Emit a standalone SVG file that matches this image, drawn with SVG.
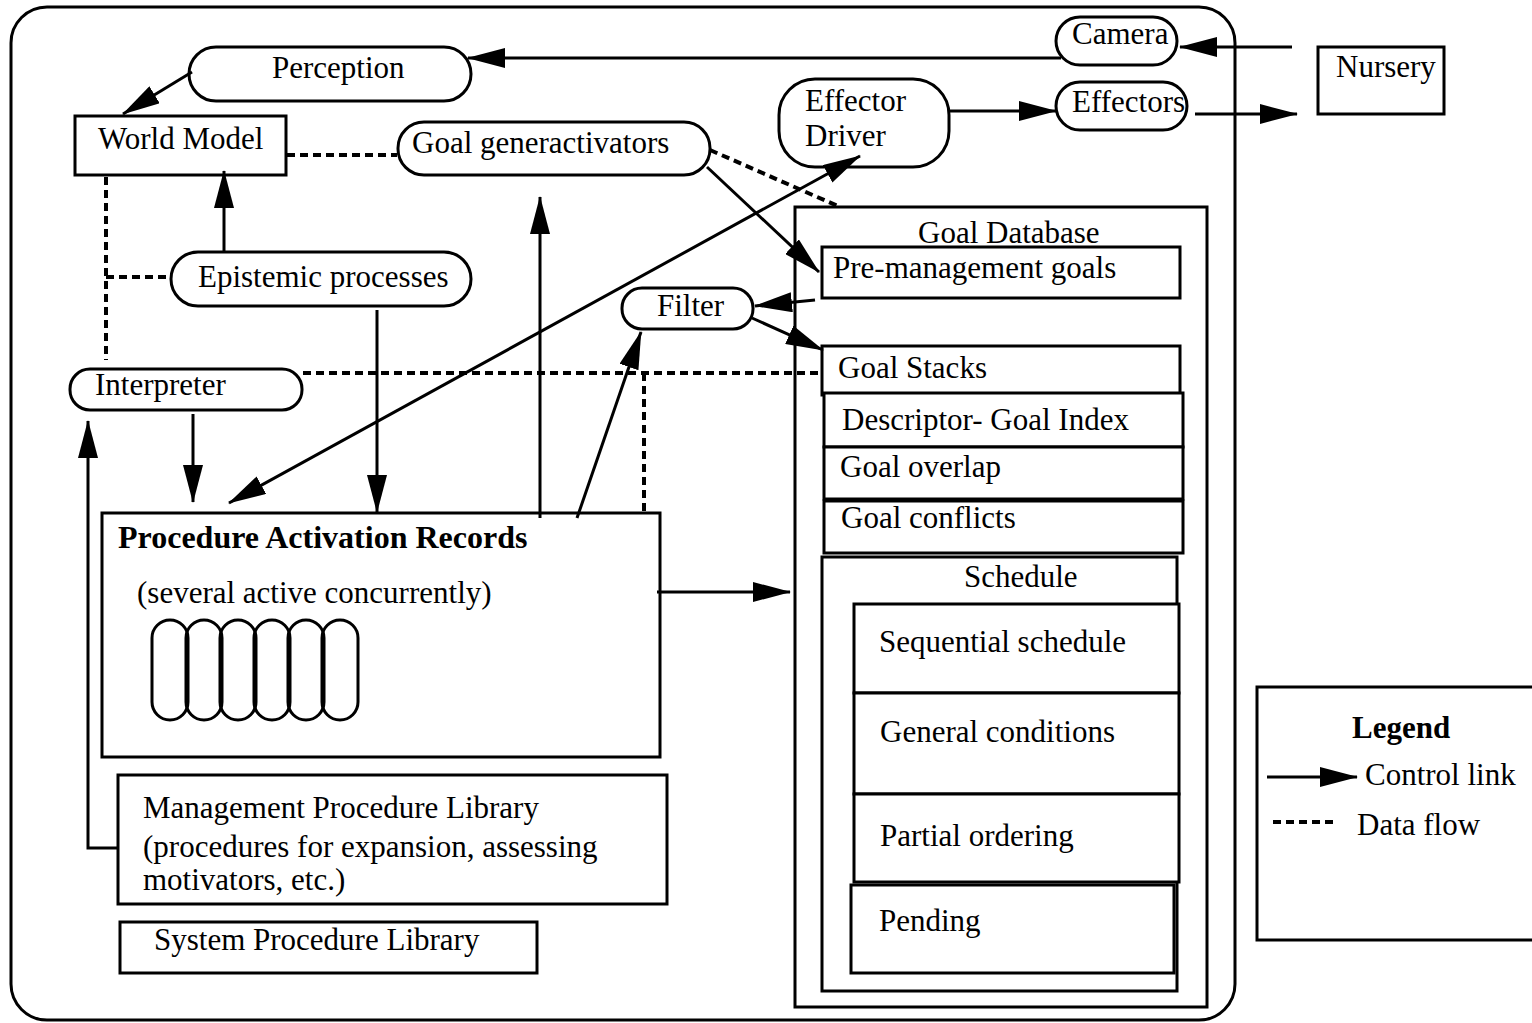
<svg xmlns="http://www.w3.org/2000/svg" width="1532" height="1023" viewBox="0 0 1532 1023">
  <style>
    text { font-family: "Liberation Serif", "Times New Roman", serif; font-size: 31px; fill: #000; }
    .b { font-weight: bold; }
    .title { font-size: 32px; }
    .box { fill: #fff; stroke: #000; stroke-width: 3; }
    .frame { fill: none; stroke: #000; stroke-width: 3; }
    .ctl { fill: none; stroke: #000; stroke-width: 3; marker-end: url(#ah); }
    .data { fill: none; stroke: #000; stroke-width: 4; stroke-dasharray: 8 5; }
  </style>
  <defs>
    <marker id="ah" markerUnits="userSpaceOnUse" markerWidth="38" markerHeight="20" viewBox="0 0 38 20" refX="37" refY="10" orient="auto-start-reverse">
      <path d="M0,0 L38,10 L0,20 z" fill="#000"/>
    </marker>
  </defs>

  <rect width="1532" height="1023" fill="#fff"/>

  <!-- agent boundary -->
  <rect id="agent" class="frame" x="11" y="7" width="1224" height="1013" rx="36"/>

  <g id="camera">
    <rect class="box" x="1056" y="17" width="121" height="48" rx="24"/>
    <text x="1072" y="44">Camera</text>
  </g>
  <g id="nursery">
    <rect class="box" x="1318" y="47" width="126" height="67"/>
    <text x="1336" y="77">Nursery</text>
  </g>
  <g id="effectors">
    <rect class="box" x="1056" y="82" width="131" height="48" rx="24"/>
    <text x="1072" y="112">Effectors</text>
  </g>
  <g id="effector-driver">
    <rect class="box" x="779" y="79" width="170" height="88" rx="36"/>
    <text x="805" y="111">Effector</text>
    <text x="805" y="146">Driver</text>
  </g>
  <g id="perception">
    <rect class="box" x="189" y="47" width="282" height="54" rx="27"/>
    <text x="272" y="78">Perception</text>
  </g>
  <g id="world-model">
    <rect class="box" x="75" y="116" width="211" height="59"/>
    <text x="98" y="149">World Model</text>
  </g>
  <g id="goal-generactivators">
    <rect class="box" x="398" y="122" width="312" height="53" rx="26"/>
    <text x="412" y="153">Goal generactivators</text>
  </g>
  <g id="epistemic-processes">
    <rect class="box" x="171" y="252" width="300" height="54" rx="27"/>
    <text x="198" y="287">Epistemic processes</text>
  </g>
  <g id="interpreter">
    <rect class="box" x="70" y="369" width="232" height="41" rx="20"/>
    <text x="95" y="395">Interpreter</text>
  </g>
  <g id="filter">
    <rect class="box" x="622" y="288" width="131" height="41" rx="20"/>
    <text x="657" y="316">Filter</text>
  </g>

  <g id="procedure-activation-records">
    <rect class="box" x="102" y="513" width="558" height="244"/>
    <text class="b title" x="118" y="548">Procedure Activation Records</text>
    <text x="137" y="603">(several active concurrently)</text>
    <g class="frame">
      <rect x="152" y="620" width="36" height="100" rx="18"/>
      <rect x="186" y="620" width="36" height="100" rx="18"/>
      <rect x="220" y="620" width="36" height="100" rx="18"/>
      <rect x="254" y="620" width="36" height="100" rx="18"/>
      <rect x="288" y="620" width="36" height="100" rx="18"/>
      <rect x="322" y="620" width="36" height="100" rx="18"/>
    </g>
  </g>

  <g id="management-procedure-library">
    <rect class="box" x="118" y="775" width="549" height="129"/>
    <text x="143" y="818">Management Procedure Library</text>
    <text x="143" y="857">(procedures for expansion, assessing</text>
    <text x="143" y="890">motivators, etc.)</text>
  </g>
  <g id="system-procedure-library">
    <rect class="box" x="120" y="922" width="417" height="51"/>
    <text x="154" y="950">System Procedure Library</text>
  </g>

  <g id="goal-database">
    <rect class="box" x="795" y="207" width="412" height="800"/>
    <text x="918" y="243">Goal Database</text>
    <g id="pre-management-goals">
      <rect class="box" x="822" y="247" width="358" height="51"/>
      <text x="833" y="278">Pre-management goals</text>
    </g>
    <g id="goal-stacks">
      <rect class="box" x="822" y="346" width="358" height="49"/>
      <text x="838" y="378">Goal Stacks</text>
    </g>
    <g id="descriptor-goal-index">
      <rect class="box" x="824" y="393" width="359" height="54"/>
      <text x="842" y="430">Descriptor- Goal Index</text>
    </g>
    <g id="goal-overlap">
      <rect class="box" x="824" y="447" width="359" height="52"/>
      <text x="840" y="477">Goal overlap</text>
    </g>
    <g id="goal-conflicts">
      <rect class="box" x="824" y="501" width="359" height="52"/>
      <text x="841" y="528">Goal conflicts</text>
    </g>
    <g id="schedule">
      <rect class="box" x="822" y="557" width="355" height="434"/>
      <text x="964" y="587">Schedule</text>
      <g id="sequential-schedule">
        <rect class="box" x="854" y="604" width="325" height="89"/>
        <text x="879" y="652">Sequential schedule</text>
      </g>
      <g id="general-conditions">
        <rect class="box" x="854" y="693" width="325" height="101"/>
        <text x="880" y="742">General conditions</text>
      </g>
      <g id="partial-ordering">
        <rect class="box" x="854" y="794" width="325" height="88"/>
        <text x="880" y="846">Partial ordering</text>
      </g>
      <g id="pending">
        <rect class="box" x="851" y="885" width="323" height="88"/>
        <text x="879" y="931">Pending</text>
      </g>
    </g>
  </g>

  <g id="legend">
    <rect class="box" x="1257" y="687" width="290" height="253"/>
    <text class="b" x="1352" y="738">Legend</text>
    <path class="ctl" d="M1267,777 L1357,777"/>
    <text x="1365" y="785">Control link</text>
    <path class="data" d="M1273,822 L1333,822"/>
    <text x="1357" y="835">Data flow</text>
  </g>

  <!-- connectors, drawn last so the heads sit on top of the boxes -->
  <g id="connectors">
    <path class="data" d="M287,155 L397,155"/>
    <path class="data" d="M710,150 L840,207"/>
    <path class="data" d="M106,177 L106,360"/>
    <path class="data" d="M106,277 L171,277"/>
    <path class="data" d="M303,373 L820,373"/>
    <path class="data" d="M644,373 L644,512"/>

    <path class="ctl" d="M1061,58 L468,58"/>
    <path class="ctl" d="M1292,47 L1180,47"/>
    <path class="ctl" d="M949,111 L1056,111"/>
    <path class="ctl" d="M1195,114 L1297,114"/>
    <path class="ctl" d="M192,72 L123,114"/>
    <path class="ctl" d="M224,252 L224,171"/>
    <path class="ctl" d="M707,167 L819,272"/>
    <path class="ctl" d="M540,518 L540,197"/>
    <path class="ctl" d="M577,518 L641,332"/>
    <path class="ctl" d="M229,503 L860,156" marker-start="url(#ah)"/>
    <path class="ctl" d="M815,300 L755,306"/>
    <path class="ctl" d="M752,318 L823,350"/>
    <path class="ctl" d="M193,414 L193,502"/>
    <path class="ctl" d="M377,310 L377,512"/>
    <path class="ctl" d="M657,592 L790,592"/>
    <path class="ctl" d="M118,848 L88,848 L88,421"/>
  </g>
</svg>
